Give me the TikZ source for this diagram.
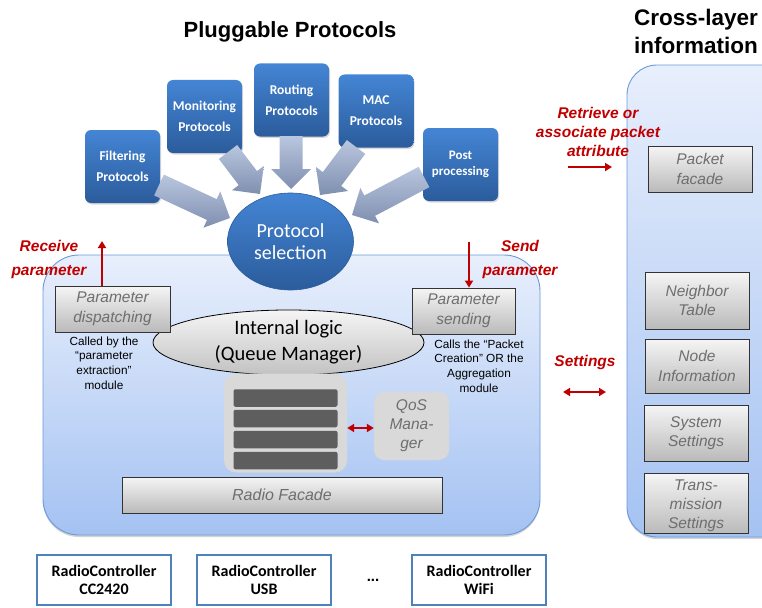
\documentclass[tikz,border=0pt]{standalone}
\usepackage{fontspec}
\setmainfont{Liberation Sans}
\newfontfamily\calfont{Carlito}
\usetikzlibrary{shapes.geometric,shadows,calc,arrows.meta}

\definecolor{pbTop}{HTML}{4485D4}
\definecolor{pbBot}{HTML}{2B5C9C}
\definecolor{arLight}{HTML}{B9C6DF}
\definecolor{arDark}{HTML}{7F8FAF}
\definecolor{lyTop}{HTML}{E8EFFC}
\definecolor{lyBot}{HTML}{A4C2F2}
\definecolor{lyEdge}{HTML}{6D99D8}
\definecolor{redc}{HTML}{C00000}
\definecolor{rcEdge}{HTML}{4F81BD}
\definecolor{gTxt}{HTML}{6E6E6E}
\definecolor{qFill}{HTML}{D9D9D9}
\definecolor{qBar}{HTML}{5E5E5E}

% wide shaded arrow from tail #1 to tip #2
\newcommand\fatarrow[2]{%
  \coordinate (hb) at ($(#2)!20pt!(#1)$);
  \shade[top color=arLight, bottom color=arDark]
    ($(#1)!11.5pt!90:(#2)$) -- ($(hb)!11.5pt!90:(#2)$) -- ($(hb)!20pt!90:(#2)$)
    -- (#2)
    -- ($(hb)!20pt!-90:(#2)$) -- ($(hb)!11.5pt!-90:(#2)$) -- ($(#1)!11.5pt!-90:(#2)$) -- cycle;}

\begin{document}
\begin{tikzpicture}[x=1pt,y=-1pt,
  protobox/.style={rectangle, rounded corners=6pt, top color=pbTop, bottom color=pbBot,
    minimum width=75pt, minimum height=73pt, inner sep=0pt, text=white, align=center,
    font=\calfont\bfseries\fontsize{13.5}{21}\selectfont,
    drop shadow={shadow xshift=1pt, shadow yshift=-1.5pt, opacity=0.3}},
  layerbox/.style={rectangle, top color=lyTop, bottom color=lyBot, draw=lyEdge,
    line width=0.9pt, inner sep=0pt,
    drop shadow={shadow xshift=0pt, shadow yshift=-2pt, opacity=0.35}},
  graybox/.style={rectangle, top color=black!4, bottom color=black!27, draw=black!80,
    line width=0.9pt, inner sep=0pt, align=center, text=gTxt,
    font=\itshape\fontsize{15.5}{19.5}\selectfont,
    drop shadow={shadow xshift=1.2pt, shadow yshift=-1.2pt, opacity=0.35}},
  note/.style={align=center, font=\fontsize{11.8}{14.8}\selectfont},
  redlbl/.style={align=center, text=redc, font=\bfseries\itshape\fontsize{15.5}{24}\selectfont},
  redarrow/.style={draw=redc, line width=1.8pt, -{Triangle[length=7pt,width=8pt]}},
  redboth/.style={draw=redc, line width=1.8pt, {Triangle[length=7pt,width=8pt]}-{Triangle[length=7pt,width=8pt]}},
  ctrlbox/.style={rectangle, draw=rcEdge, line width=1.4pt, fill=white,
    minimum width=134pt, minimum height=50pt, inner sep=0pt, align=center,
    font=\calfont\bfseries\fontsize{16}{18.5}\selectfont},
  qbar/.style={rectangle, rounded corners=2pt, fill=qBar, minimum width=104pt,
    minimum height=17.5pt, inner sep=0pt}
]
\useasboundingbox (0,0) rectangle (762,607);

% titles
\node[font=\bfseries\fontsize{22}{26}\selectfont] (title) at (290,32) {Pluggable Protocols};
\node[align=center, font=\bfseries\fontsize{22.5}{28}\selectfont] (xtitle) at (696,31) {Cross-layer\\information};

% containers
\node[layerbox, rounded corners=36pt, minimum width=497pt, minimum height=280pt] (core) at (291.5,395) {};
\node[layerbox, rounded corners=30pt, minimum width=180pt, minimum height=472pt] (xlayer) at (717,301) {};

% pluggable protocol boxes
\node[protobox] (filt) at (122.5,166.5) {Filtering\\Protocols};
\node[protobox] (mon)  at (204.5,116.5) {Monitoring\\Protocols};
\node[protobox] (rout) at (291.5,100)   {Routing\\Protocols};
\node[protobox] (mac)  at (376,111)     {MAC\\Protocols};
\node[protobox, font=\calfont\bfseries\fontsize{13}{16}\selectfont] (post) at (460.5,164.5) {Post\\processing};

% protocol selection
\node[ellipse, top color=pbTop, bottom color=pbBot, draw=pbBot, line width=0.6pt,
  minimum width=126pt, minimum height=97pt, inner sep=0pt, text=white, align=center,
  font=\calfont\fontsize{20}{22}\selectfont] (sel) at (290.5,241.5) {Protocol\\selection};

% wide arrows into the selection
\coordinate (filtT) at (159,185);  \coordinate (filtH) at (230,218);
\coordinate (monT)  at (228,152);  \coordinate (monH)  at (260,194);
\coordinate (routT) at (291,136);  \coordinate (routH) at (291,189);
\coordinate (macT)  at (356,147);  \coordinate (macH)  at (320,195);
\coordinate (postT) at (424,177);  \coordinate (postH) at (352,215);
\fatarrow{filtT}{filtH}
\fatarrow{monT}{monH}
\fatarrow{routT}{routH}
\fatarrow{macT}{macH}
\fatarrow{postT}{postH}

% internal logic
\node[ellipse, top color=black!4, bottom color=black!24, draw=black, line width=0.8pt,
  minimum width=271pt, minimum height=65pt, inner sep=0pt, align=center,
  font=\calfont\fontsize{20.5}{26}\selectfont] (logic) at (288.5,342.5) {Internal logic\\(Queue Manager)};

% parameter boxes
\node[graybox, minimum width=115pt, minimum height=46pt] (disp) at (112.5,309) {Parameter\\dispatching};
\node[graybox, minimum width=103pt, minimum height=46pt] (send) at (463.5,311) {Parameter\\sending};
\node[note] (dispnote) at (104,363) {Called by the\\“parameter\\extraction”\\module};
\node[note] (sendnote) at (479,366) {Calls the “Packet\\Creation” OR the\\Aggregation\\module};

% queue
\node[rectangle, rounded corners=12pt, fill=qFill, minimum width=123pt, minimum height=99pt, inner sep=0pt] (queue) at (285.5,423) {};
\node[qbar] (q1) at (285.5,398) {};
\node[qbar] (q2) at (285.5,418.5) {};
\node[qbar] (q3) at (285.5,439.5) {};
\node[qbar] (q4) at (285.5,460.5) {};

% QoS manager
\node[rectangle, rounded corners=10pt, fill=qFill, minimum width=75pt, minimum height=68pt, inner sep=0pt,
  align=center, text=gTxt, font=\itshape\fontsize{15.5}{19}\selectfont] (qos) at (411.5,426) {QoS\\Mana-\\ger};
\draw[redboth] (queue.east |- 0,428) -- (qos.west |- 0,428);

% radio facade
\node[graybox, minimum width=320pt, minimum height=36pt, font=\itshape\fontsize{16}{19}\selectfont] (radio) at (282,495) {Radio Facade};

% parameter flows
\coordinate (rcvTop) at (102,241);
\draw[redarrow] (disp.north -| rcvTop) -- (rcvTop);
\node[redlbl] (rcvlbl) at (49,259) {Receive\\parameter};
\coordinate (sndTop) at (469,242);
\draw[redarrow] (sndTop) -- (send.north -| sndTop);
\node[redlbl] (sndlbl) at (520,259) {Send\\parameter};

% cross-layer components
\node[graybox, minimum width=104pt, minimum height=46pt] (pkt)  at (700,169)   {Packet\\facade};
\node[graybox, minimum width=104pt, minimum height=57pt] (nbr)  at (697,300.5) {Neighbor\\Table};
\node[graybox, minimum width=104pt, minimum height=54pt] (ninf) at (697,366)   {Node\\Information};
\node[graybox, minimum width=104pt, minimum height=56pt] (sys)  at (696,433)   {System\\Settings};
\node[graybox, minimum width=104pt, minimum height=60pt] (trn)  at (696,503)   {};
\node[align=center, text=gTxt, font=\itshape\fontsize{15.5}{19}\selectfont] (trntxt) at (696,506) {Trans-\\mission\\Settings};

% cross-layer access
\node[redlbl, font=\bfseries\itshape\fontsize{15.5}{19}\selectfont] (retlbl) at (598,132) {Retrieve or\\associate packet\\attribute};
\coordinate (retA) at (568,167); \coordinate (retB) at (612,167);
\draw[redarrow] (retA) -- (retB);
\node[redlbl] (setlbl) at (585,362) {Settings};
\coordinate (setA) at (563,392); \coordinate (setB) at (606,392);
\draw[redboth] (setA) -- (setB);

% radio controllers
\node[ctrlbox] (rc1) at (104,580) {RadioController\\CC2420};
\node[ctrlbox] (rc2) at (264,580) {RadioController\\USB};
\node[ctrlbox] (rc3) at (479,580) {RadioController\\WiFi};
\node[font=\bfseries\fontsize{15}{18}\selectfont] (dots) at (373,580) {...};
\end{tikzpicture}
\end{document}
